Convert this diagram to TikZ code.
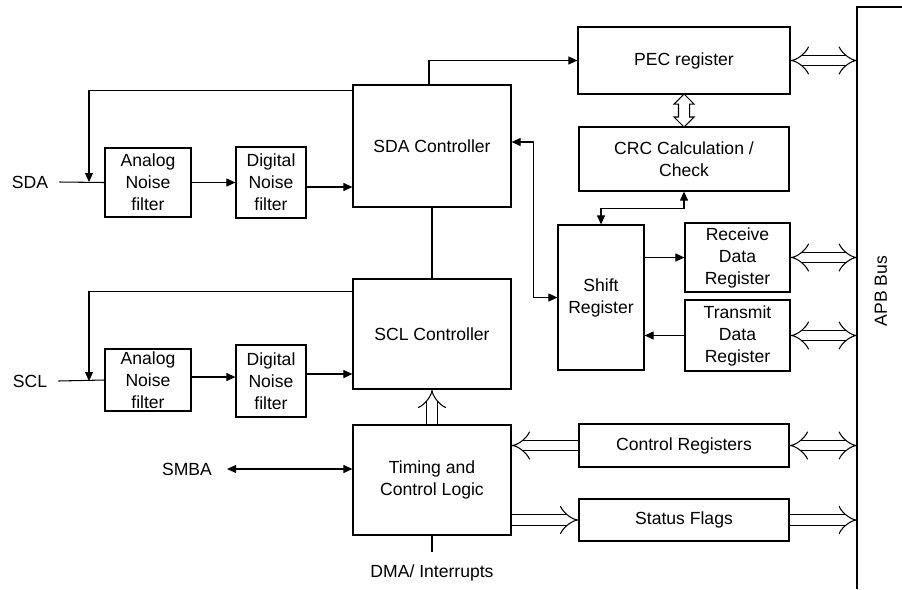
\documentclass[tikz,border=0pt]{standalone}
\usepackage{fontspec}
\setmainfont{Liberation Sans}
\usetikzlibrary{arrows.meta,positioning,calc,shapes.arrows}

\begin{document}
\begin{tikzpicture}[
  x=0.2mm, y=-0.2mm,
  font=\fontsize{10}{12.5}\selectfont,
  blk/.style={draw, line width=0.7pt, align=center, inner sep=1pt},
  fl/.style={line width=0.6pt, -{Triangle[length=1.8mm, width=1.6mm]}},
  fl2/.style={line width=0.6pt, {Triangle[length=1.8mm, width=1.6mm]}-{Triangle[length=1.8mm, width=1.6mm]}},
  hol/.style={double, double distance=5.2pt, line width=0.6pt, -{Implies[length=2mm, width=4.6mm]}},
  hol2/.style={double, double distance=5.2pt, line width=0.6pt, {Implies[length=2mm, width=4.6mm]}-{Implies[length=2mm, width=4.6mm]}},
  holv/.style={draw, double arrow, line width=0.6pt, inner sep=1mm, double arrow head extend=0.9mm},
]
\useasboundingbox (0,0) rectangle (902,589);

% input stages
\node[blk, minimum width=17.2mm, minimum height=13.8mm] (ana1) at (148,182.5) {Analog\\Noise\\filter};
\node[blk, minimum width=14mm, minimum height=14.2mm] (dig1) at (271,182.5) {Digital\\Noise\\filter};
\node[blk, minimum width=17.2mm, minimum height=12.4mm] (ana2) at (148,380) {Analog\\Noise\\filter};
\node[blk, minimum width=14mm, minimum height=14.4mm] (dig2) at (271,381) {Digital\\Noise\\filter};
\node (sdain) at (30,182) {SDA};
\node (sclin) at (30,381) {SCL};

% controllers
\node[blk, minimum width=31.6mm, minimum height=24.4mm] (sda) at (432,146) {SDA Controller};
\node[blk, minimum width=31.6mm, minimum height=22mm] (scl) at (432,334) {SCL Controller};
\node[blk, minimum width=31.6mm, minimum height=22mm] (timing) at (432,480) {Timing and\\Control Logic};
\node (smba) at (187,469) {SMBA};
\node (dma) at (432,573) {DMA/ Interrupts};

% registers
\node[blk, minimum width=42.4mm, minimum height=13.4mm] (pec) at (684,60.5) {PEC register};
\node[blk, minimum width=42mm, minimum height=12.8mm] (crc) at (684,159) {CRC Calculation /\\Check};
\node[blk, minimum width=17.2mm, minimum height=29mm] (shift) at (601,297.5) {Shift\\Register};
\node[blk, minimum width=21mm, minimum height=13.8mm] (rx) at (737.5,257.5) {Receive\\Data\\Register};
\node[blk, minimum width=21mm, minimum height=14.2mm] (tx) at (737.5,335.5) {Transmit\\Data\\Register};
\node[blk, minimum width=42mm, minimum height=8.6mm] (ctrlreg) at (684,445.5) {Control Registers};
\node[blk, minimum width=42mm, minimum height=8.4mm] (status) at (684,520) {Status Flags};

% APB bus
\coordinate (bus) at (857,7);
\draw[line width=0.9pt] (902,7) -- (bus) -- (857,589);
\node[rotate=90] (apb) at (881,291) {APB Bus};

% SDA path
\coordinate (fb1) at (89,182);
\draw[line width=0.6pt] ([xshift=1mm]sdain.east) -- (ana1.west);
\draw[fl] (ana1.east) -- (dig1.west);
\draw[fl] ([yshift=-0.9mm]dig1.east) -- ([yshift=-0.9mm]dig1.east -| sda.west);
\draw[fl] ([yshift=-1.2mm]sda.north west) -| (fb1);

% SCL path
\coordinate (fb2) at (89,381);
\draw[line width=0.6pt] ([xshift=1mm]sclin.east) -- (ana2.west);
\draw[fl] ([yshift=0.6mm]ana2.east) -- ([yshift=0.6mm]ana2.east -| dig2.west);
\draw[fl] ([yshift=1.4mm]dig2.east) -- ([yshift=1.4mm]dig2.east -| scl.west);
\draw[fl] ([yshift=-2.6mm]scl.north west) -| (fb2);

\draw[line width=0.6pt] (sda.south) -- (scl.north);
\draw[fl] ([xshift=-0.6mm]sda.north) |- (pec.west);
\draw[fl2] ([yshift=0.8mm]sda.east) -- ++(22,0) |- (shift.west);
\draw[fl2] (crc.south) -- ++(0,17) -| (shift.north);
\draw[fl] (shift.east |- rx.west) -- (rx.west);
\draw[fl] (tx.west) -- (tx.west -| shift.east);
\draw[fl2] ([xshift=1.8mm]smba.east) -- (smba.east -| timing.west);
\draw[line width=0.6pt] (timing.south) -- ([yshift=1.3mm]dma.north);

% wide data paths
\node[holv, rotate=90, minimum height=6.6mm] (pcarr) at ($(pec.south)!0.5!(crc.north)$) {};
\draw[hol] (timing.north) -- (scl.south);
\draw[hol] (ctrlreg.west) -- (ctrlreg.west -| timing.east);
\draw[hol] (status.west -| timing.east) -- (status.west);
\foreach \b in {pec,rx,tx,ctrlreg} \draw[hol2] (\b.east) -- (\b.east -| bus);
\draw[hol] (status.east) -- (status.east -| bus);
\end{tikzpicture}
\end{document}
